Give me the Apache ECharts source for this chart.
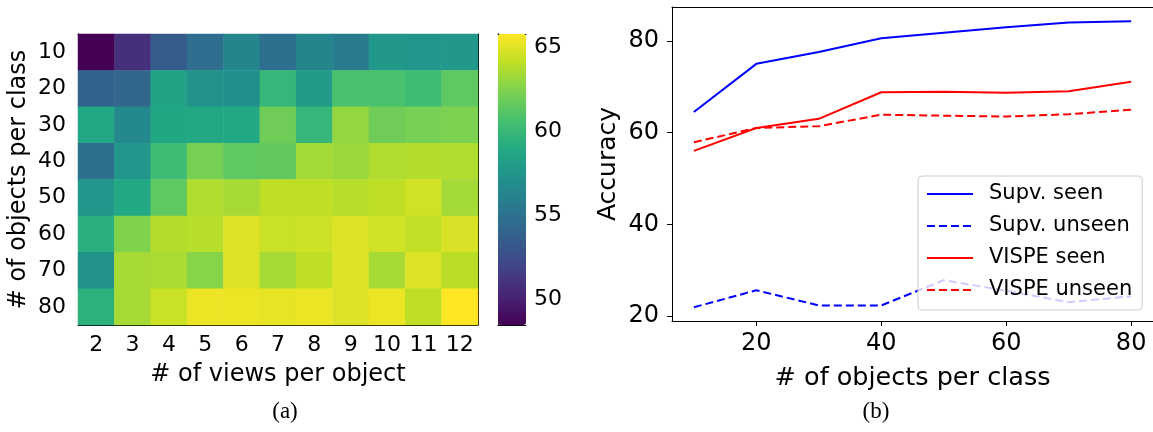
<!DOCTYPE html>
<html>
<head>
<meta charset="utf-8">
<script src="https://cdn.jsdelivr.net/npm/echarts@6/dist/echarts.min.js"></script>
<style>
  html, body { margin: 0; padding: 0; background: #fff; }
  #chart { width: 1153px; height: 432px; }
</style>
</head>
<body>
<div id="chart"></div>
<script>
// (a) heatmap: accuracy by # views (columns) and # objects (rows)
const views = ['2', '3', '4', '5', '6', '7', '8', '9', '10', '11', '12']
const objects = ['10', '20', '30', '40', '50', '60', '70', '80']
const heatValues = [
  [48.5, 50.8, 53.5, 54.7, 56.3, 54.9, 56.3, 55.6, 57.7, 57.5, 57.7],
  [54.0, 54.2, 58.5, 57.3, 57.1, 59.9, 58.0, 60.8, 60.8, 60.3, 61.5],
  [58.9, 56.6, 58.8, 58.9, 58.9, 62.0, 59.9, 63.0, 62.0, 62.2, 62.4],
  [54.9, 57.5, 60.3, 62.2, 61.5, 61.6, 63.4, 63.2, 63.7, 63.8, 63.7],
  [57.5, 58.9, 61.5, 63.7, 63.5, 64.1, 64.1, 63.9, 64.1, 64.6, 63.4],
  [59.4, 62.5, 63.8, 63.9, 65.0, 64.4, 64.5, 64.9, 64.6, 64.2, 64.8],
  [57.3, 63.5, 63.6, 62.7, 64.9, 63.5, 64.1, 64.9, 63.5, 64.9, 64.0],
  [59.5, 63.5, 64.4, 65.3, 65.3, 65.2, 65.3, 64.9, 65.3, 64.1, 65.8]
]
const colorMin = 48.5
const colorMax = 65.8
const cbarTicks = [50, 55, 60, 65]

// (b) accuracy vs # objects per class
const objectsPerClass = [10, 20, 30, 40, 50, 60, 70, 80]
const supvSeen = [64.5, 75.0, 77.6, 80.6, 81.8, 83.0, 84.0, 84.3]
const supvUnseen = [21.9, 25.6, 22.3, 22.3, 27.8, 25.5, 23.0, 24.3]
const vispeSeen = [56.0, 61.0, 63.0, 68.8, 68.9, 68.7, 69.0, 71.1]
const vispeUnseen = [57.9, 61.0, 61.4, 63.9, 63.7, 63.5, 64.0, 65.0]
const lineXTicks = [20, 40, 60, 80]
const lineYTicks = [20, 40, 60, 80]

const viridis = ['#440154', '#482475', '#414487', '#355f8d', '#2a788e', '#21918c',
  '#22a884', '#44bf70', '#7ad151', '#bddf26', '#fde725']

const heatData = []
heatValues.forEach((row, r) => {
  row.forEach((v, c) => heatData.push([c, r, v]))
})
const pairs = ys => objectsPerClass.map((x, i) => [x, ys[i]])

const font = 'DejaVu Sans'
const black = '#000'
const spine = { show: true, lineStyle: { color: black, width: 1 } }
const frameAxis = (extra) => Object.assign({
  axisLine: spine, axisTick: { show: false }, axisLabel: { show: false },
  splitLine: { show: false }
}, extra)

const chart = echarts.init(document.getElementById('chart'))
chart.setOption({
  animation: false,
  textStyle: { fontFamily: font },
  grid: [
    { left: 78, top: 34, width: 400, height: 291 },
    { left: 672, top: 7, width: 482, height: 314 },
    { left: 498, top: 34, width: 28, height: 291 }
  ],
  visualMap: {
    type: 'continuous', seriesIndex: 0, dimension: 2,
    min: colorMin, max: colorMax, calculable: false,
    left: 498, top: 34, itemWidth: 28, itemHeight: 291, padding: 0,
    inRange: { color: viridis }, text: null, showLabel: false
  },
  xAxis: [
    { type: 'category', gridIndex: 0, data: views, position: 'bottom',
      axisLine: spine,
      axisTick: { alignWithLabel: true, length: 5, lineStyle: { color: black } },
      axisLabel: { color: black, fontSize: 22, margin: 9, interval: 0, fontFamily: font },
      name: '# of views per object', nameLocation: 'middle', nameGap: 38,
      nameTextStyle: { color: black, fontSize: 24, fontFamily: font } },
    frameAxis({ type: 'category', gridIndex: 0, data: views, position: 'top' }),
    { type: 'value', gridIndex: 1, min: 6.5, max: 83.5, position: 'bottom',
      axisLine: spine,
      axisTick: { length: 5, lineStyle: { color: black }, customValues: lineXTicks },
      axisLabel: { color: black, fontSize: 24, margin: 11, fontFamily: font, customValues: lineXTicks },
      splitLine: { show: false },
      name: '# of objects per class', nameLocation: 'middle', nameGap: 44,
      nameTextStyle: { color: black, fontSize: 25.5, fontFamily: font } },
    frameAxis({ type: 'value', gridIndex: 1, min: 6.5, max: 83.5, position: 'top' }),
    frameAxis({ type: 'value', gridIndex: 2, min: 0, max: 1, position: 'bottom' }),
    frameAxis({ type: 'value', gridIndex: 2, min: 0, max: 1, position: 'top' })
  ],
  yAxis: [
    { type: 'category', gridIndex: 0, data: objects, inverse: true, position: 'left',
      axisLine: spine,
      axisTick: { alignWithLabel: true, length: 5, lineStyle: { color: black } },
      axisLabel: { color: black, fontSize: 22, margin: 12, interval: 0, fontFamily: font },
      name: '# of objects per class', nameLocation: 'middle', nameGap: 47,
      nameTextStyle: { color: black, fontSize: 24, fontFamily: font } },
    frameAxis({ type: 'category', gridIndex: 0, data: objects, inverse: true, position: 'right' }),
    { type: 'value', gridIndex: 1, min: 18.9, max: 87.4, position: 'left',
      axisLine: spine,
      axisTick: { length: 5, lineStyle: { color: black }, customValues: lineYTicks },
      axisLabel: { color: black, fontSize: 24, margin: 13, fontFamily: font, customValues: lineYTicks },
      splitLine: { show: false },
      name: 'Accuracy', nameLocation: 'middle', nameGap: 51,
      nameTextStyle: { color: black, fontSize: 25, fontFamily: font } },
    frameAxis({ type: 'value', gridIndex: 1, min: 18.9, max: 87.4, position: 'right' }),
    { type: 'value', gridIndex: 2, min: colorMin, max: colorMax, position: 'right',
      axisLine: spine,
      axisTick: { length: 5, lineStyle: { color: black }, customValues: cbarTicks },
      axisLabel: { color: black, fontSize: 22, margin: 8, fontFamily: font, customValues: cbarTicks },
      splitLine: { show: false } },
    frameAxis({ type: 'value', gridIndex: 2, min: colorMin, max: colorMax, position: 'left' })
  ],
  legend: {
    orient: 'vertical', left: 918, top: 176,
    padding: [6, 10, 8, 8], itemGap: 8, itemWidth: 46, itemHeight: 24,
    backgroundColor: 'rgba(255,255,255,0.8)', borderColor: '#cccccc',
    borderWidth: 1, borderRadius: 4,
    itemStyle: { opacity: 0 },
    textStyle: { fontSize: 21, lineHeight: 24, color: black, fontFamily: font, padding: [0, 0, 0, 11] },
    data: ['Supv. seen', 'Supv. unseen', 'VISPE seen', 'VISPE unseen']
  },
  graphic: [
    { type: 'text', x: 285, y: 412, style: { text: '(a)', font: '23px "Liberation Serif"', fill: black, textAlign: 'center', textVerticalAlign: 'middle' } },
    { type: 'text', x: 876, y: 412, style: { text: '(b)', font: '23px "Liberation Serif"', fill: black, textAlign: 'center', textVerticalAlign: 'middle' } }
  ],
  series: [
    { type: 'heatmap', xAxisIndex: 0, yAxisIndex: 0, data: heatData,
      itemStyle: { borderWidth: 0 }, emphasis: { disabled: true } },
    { name: 'Supv. seen', type: 'line', xAxisIndex: 2, yAxisIndex: 2, data: pairs(supvSeen),
      symbol: 'none', color: '#0000ff', lineStyle: { width: 2, color: '#0000ff' } },
    { name: 'Supv. unseen', type: 'line', xAxisIndex: 2, yAxisIndex: 2, data: pairs(supvUnseen),
      symbol: 'none', color: '#0000ff', lineStyle: { width: 2, color: '#0000ff', type: [8, 4] } },
    { name: 'VISPE seen', type: 'line', xAxisIndex: 2, yAxisIndex: 2, data: pairs(vispeSeen),
      symbol: 'none', color: '#ff0000', lineStyle: { width: 2, color: '#ff0000' } },
    { name: 'VISPE unseen', type: 'line', xAxisIndex: 2, yAxisIndex: 2, data: pairs(vispeUnseen),
      symbol: 'none', color: '#ff0000', lineStyle: { width: 2, color: '#ff0000', type: [8, 4] } }
  ]
})
</script>
</body>
</html>
